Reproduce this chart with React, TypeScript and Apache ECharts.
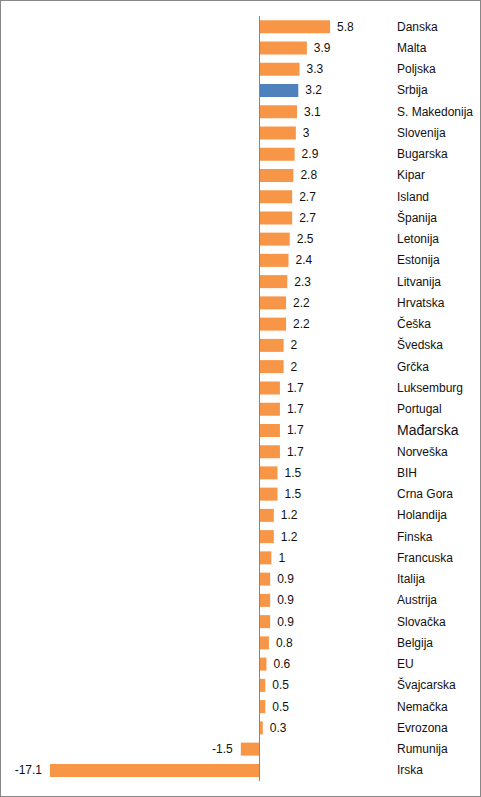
import React, { useEffect, useRef } from "react";
import * as echarts from "echarts";

const categories = [
  "Danska", "Malta", "Poljska", "Srbija", "S. Makedonija", "Slovenija", "Bugarska", "Kipar",
  "Island", "Španija", "Letonija", "Estonija", "Litvanija", "Hrvatska", "Češka", "Švedska",
  "Grčka", "Luksemburg", "Portugal", "Mađarska", "Norveška", "BIH", "Crna Gora", "Holandija",
  "Finska", "Francuska", "Italija", "Austrija", "Slovačka", "Belgija", "EU", "Švajcarska",
  "Nemačka", "Evrozona", "Rumunija", "Irska",
];
const values = [
  5.8, 3.9, 3.3, 3.2, 3.1, 3, 2.9, 2.8,
  2.7, 2.7, 2.5, 2.4, 2.3, 2.2, 2.2, 2,
  2, 1.7, 1.7, 1.7, 1.7, 1.5, 1.5, 1.2,
  1.2, 1, 0.9, 0.9, 0.9, 0.8, 0.6, 0.5,
  0.5, 0.3, -1.5, -17.1,
];
const highlighted = ["Srbija"];

const ORANGE = "#F79646";
const BLUE = "#4F81BD";
const FONT = "Liberation Sans";

export default function App() {
  const ref = useRef<HTMLDivElement>(null);
  useEffect(() => {
    document.body.style.margin = "0";
    if (!ref.current) return;
    const chart = echarts.init(ref.current, null, { renderer: "svg" });
    const data = values.map((v, i) => ({
      value: v,
      itemStyle: { color: highlighted.includes(categories[i]) ? BLUE : ORANGE },
      label: {
        show: true,
        position: v < 0 ? "left" : "right",
        distance: v < 0 ? 8 : 7,
      },
    }));
    chart.setOption({
      animation: false,
      grid: { left: 50, right: 124, top: 16, bottom: 16, containLabel: false },
      xAxis: {
        type: "value",
        min: -17.1,
        max: 8,
        show: false,
      },
      yAxis: {
        type: "category",
        data: categories,
        inverse: true,
        position: "right",
        axisLine: { show: false },
        axisTick: { show: false },
        splitLine: { show: false },
        axisLabel: {
          margin: 40,
          align: "left",
          color: "#111",
          fontFamily: FONT,
          fontSize: 12,
          formatter: (v: string) => (v === "Mađarska" ? `{big|${v}}` : v),
          rich: { big: { fontSize: 14, fontFamily: FONT, color: "#111" } },
        },
      },
      series: [
        {
          type: "bar",
          data,
          barWidth: 13,
          label: {
            color: "#111",
            fontFamily: FONT,
            fontSize: 12,
            formatter: (p: any) => String(p.value),
          },
          markLine: {
            silent: true,
            symbol: "none",
            label: { show: false },
            lineStyle: { color: "#868686", width: 1, type: "solid" },
            data: [{ xAxis: 0 }],
          },
        },
      ],
    });
    return () => chart.dispose();
  }, []);
  return (
    <div style={{ position: "relative", width: 481, height: 797 }}>
      <div ref={ref} style={{ position: "absolute", left: 0, top: 0, width: 481, height: 797 }} />
      <div
        style={{
          position: "absolute",
          left: 0,
          top: 0,
          width: 481,
          height: 797,
          boxSizing: "border-box",
          border: "1px solid #878787",
          pointerEvents: "none",
        }}
      />
    </div>
  );
}
